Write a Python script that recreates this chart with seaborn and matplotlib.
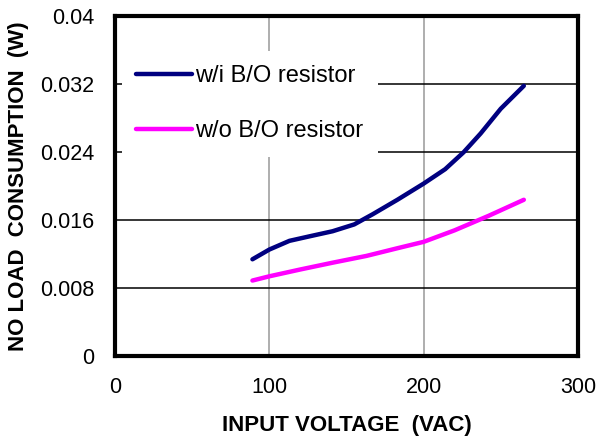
import pandas as pd
import matplotlib
matplotlib.use("Agg")
import matplotlib.pyplot as plt
import seaborn as sns

sns.set_style("white")
plt.rcParams["font.family"] = ["Liberation Sans", "DejaVu Sans"]
plt.rcParams["text.color"] = "black"
plt.rcParams["axes.labelcolor"] = "black"
plt.rcParams["xtick.color"] = "black"
plt.rcParams["ytick.color"] = "black"

# --- data ---
v_with = [89, 100, 113, 126, 141, 155, 167, 183, 200, 214, 226, 237, 250, 265]
p_with = [0.0114, 0.01255, 0.01357, 0.0141, 0.0147, 0.0155, 0.0167, 0.0184,
          0.0203, 0.0220, 0.0240, 0.0262, 0.0291, 0.0318]
v_without = [89, 100, 120, 141, 163, 183, 200, 220, 242, 265]
p_without = [0.0089, 0.0094, 0.0102, 0.0110, 0.0118, 0.0127, 0.01345, 0.0148,
             0.0165, 0.0184]
labels = ["w/i B/O resistor", "w/o B/O resistor"]
colors = ["#000080", "#ff00ff"]

df = pd.concat([
    pd.DataFrame({"vac": v_with, "power": p_with, "case": labels[0]}),
    pd.DataFrame({"vac": v_without, "power": p_without, "case": labels[1]}),
])

fig = plt.figure(figsize=(6.0, 4.36), dpi=100)
ax = fig.add_axes([0.192, 0.183, 0.771, 0.780])

ax.axvline(100, color="#999999", lw=1.1, zorder=1)
ax.axvline(200, color="#999999", lw=1.1, zorder=1)
for yv in [0.008, 0.016, 0.024, 0.032]:
    ax.axhline(yv, color="black", lw=1.1, zorder=1)

sns.lineplot(data=df, x="vac", y="power", hue="case", palette=colors,
             linewidth=3.2, sort=True, ax=ax, zorder=3,
             solid_capstyle="round", solid_joinstyle="round")

ax.set_xlim(0, 300)
ax.set_ylim(0, 0.04)
ax.set_xticks([0, 100, 200, 300])
ax.set_yticks([0, 0.008, 0.016, 0.024, 0.032, 0.04])
ax.set_yticklabels(["0", "0.008", "0.016", "0.024", "0.032", "0.04"])
ax.tick_params(axis="both", direction="in", labelsize=15.5, color="black",
               labelcolor="black")
ax.tick_params(axis="y", length=5, width=1.1, pad=15)
ax.tick_params(axis="x", length=0, pad=15)
for sp in ax.spines.values():
    sp.set_linewidth(3.0)
    sp.set_color("black")

ax.set_xlabel("INPUT VOLTAGE  (VAC)", fontsize=16, fontweight="bold",
              labelpad=12, color="black")
ax.set_ylabel("NO LOAD  CONSUMPTION  (W)", fontsize=16, fontweight="bold",
              labelpad=8, color="black")

leg = ax.legend(loc="upper left", bbox_to_anchor=(0.015, 0.897), fontsize=17,
                frameon=True, framealpha=1, edgecolor="white", facecolor="white",
                fancybox=False, handlelength=2.35, handletextpad=0.15,
                labelspacing=1.4, borderpad=0.6, borderaxespad=0)
leg.get_frame().set_linewidth(0)
leg.set_zorder(2)
for line in leg.get_lines():
    line.set_linewidth(3.2)
for t in leg.get_texts():
    t.set_color("black")

fig.savefig("out.png", dpi=100)
